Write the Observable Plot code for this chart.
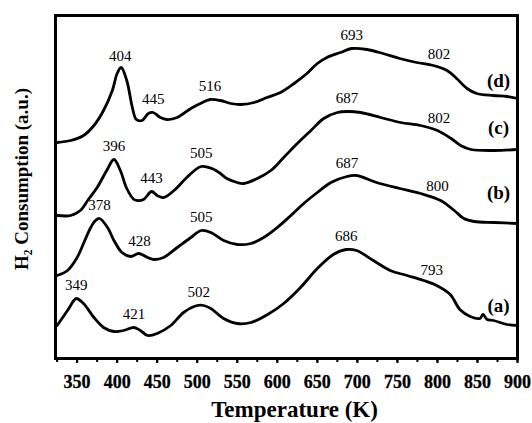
<!DOCTYPE html>
<html>
<head>
<meta charset="utf-8">
<script src="https://cdn.jsdelivr.net/npm/d3@7"></script>
<script src="https://cdn.jsdelivr.net/npm/@observablehq/plot@0.6"></script>
<style>
  body { margin: 0; background: #fff; }
</style>
</head>
<body>
<div id="chart"></div>
<script>
// H2-TPR profiles of four samples, [temperature (K), H2 signal (a.u.)], stacked with offsets
const curveA = [[325,33],[338,48],[346,58],[349,60],[358,55],[371,41],[383,31],[396,27],[408,28],[421,31],[429,28],[438,23],[450,25],[467,33],[483,46],[500,53],[508,53],[517,50],[533,40],[550,35],[567,36],[588,44],[608,55],[629,71],[650,90],[670,104],[686,109],[699,108],[720,98],[741,88],[762,83],[783,78],[799,73],[816,64],[828,49],[841,42],[853,40],[857,44],[862,39],[870,38],[887,34],[900,33]];
const curveB = [[325,83],[338,88],[350,101],[358,115],[367,131],[373,138],[378,140],[388,131],[396,118],[406,106],[417,102],[427,105],[438,101],[446,99],[458,101],[475,111],[492,121],[505,128],[517,126],[533,118],[550,114],[567,115],[583,121],[600,131],[617,143],[633,155],[650,166],[667,176],[687,182],[699,183],[724,176],[753,170],[779,165],[804,158],[821,148],[833,140],[846,137],[871,136],[900,135]];
const curveC = [[325,143],[342,143],[354,148],[364,159],[375,171],[387,188],[396,199],[404,188],[412,170],[421,159],[425,158],[433,159],[443,167],[450,163],[458,161],[471,168],[487,181],[505,192],[521,189],[529,185],[537,180],[550,176],[558,175],[575,180],[592,188],[608,201],[625,215],[642,228],[658,240],[675,246],[687,247],[704,246],[729,241],[754,236],[779,233],[800,228],[817,220],[829,213],[842,209],[871,208],[900,209]];
const curveD = [[325,216],[342,218],[358,223],[371,233],[383,248],[394,268],[400,285],[405,291],[412,278],[419,251],[424,239],[431,238],[439,245],[445,246],[454,241],[462,239],[475,241],[492,250],[504,255],[516,259],[529,258],[542,255],[554,254],[571,256],[587,261],[604,266],[621,275],[637,285],[650,295],[662,301],[679,306],[693,310],[712,309],[732,305],[753,300],[774,296],[795,293],[812,288],[824,280],[837,270],[849,265],[870,263],[887,262],[900,260]];

// Reduction peak temperatures (K) for each sample
const peaksA = [349, 421, 502, 686, 793];
const peaksB = [378, 428, 505, 687, 800];
const peaksC = [396, 443, 505, 687, 802];
const peaksD = [404, 445, 516, 693, 802];

// Sample tags and the signal level they sit at
const sampleNames = ["(a)", "(b)", "(c)", "(d)"];
const tagLevels = [53, 166, 231, 278];

const tempTicks = d3.range(350, 901, 50);
const minorTicks = d3.range(325, 901, 25);

const curves = [curveA, curveB, curveC, curveD];
const peaks = [peaksA, peaksB, peaksC, peaksD];

// linear interpolation of a profile at temperature t
function valueAt(curve, t) {
  for (let i = 1; i < curve.length; i++) {
    const [t0, v0] = curve[i - 1], [t1, v1] = curve[i];
    if (t >= t0 && t <= t1) return v0 + (v1 - v0) * (t - t0) / (t1 - t0);
  }
  return curve[curve.length - 1][1];
}

const lineRows = curves.flatMap((c, i) => c.map(([T, h2]) => ({sample: sampleNames[i], T, h2})));
const peakRows = peaks.flatMap((p, i) => p.map(T => ({T, h2: valueAt(curves[i], T), label: String(T)})));
const tagRows = sampleNames.map((name, i) => ({name, level: tagLevels[i]}));

const serif = "'Liberation Serif', 'Times New Roman', Times, serif";

const chart = Plot.plot({
  width: 532,
  height: 423,
  marginLeft: 55,
  marginRight: 15,
  marginTop: 15,
  marginBottom: 65,
  style: {fontFamily: serif, background: "#fff", color: "#000"},
  x: {domain: [323, 900], axis: null},
  y: {domain: [0, 343], axis: null},
  marks: [
    // tick marks every 25 K, slightly longer at the labelled 50 K steps
    Plot.axisX({ticks: minorTicks, tickSize: 4, tickFormat: () => "", strokeWidth: 2, label: null}),
    Plot.axisX({ticks: tempTicks, tickSize: 5, tickFormat: () => "", strokeWidth: 2, label: null}),
    Plot.text(tempTicks, {x: d => d, text: d => String(d), frameAnchor: "bottom", lineAnchor: "middle", dy: 24, fontSize: 18, fontWeight: "bold", fill: "#000", stroke: "#000", strokeWidth: 0.3}),
    Plot.line(lineRows, {x: "T", y: "h2", z: "sample", stroke: "#000", strokeWidth: 2.8, curve: "catmull-rom"}),
    Plot.text(peakRows, {x: "T", y: "h2", text: "label", dy: -13, fontSize: 15, fill: "#000"}),
    Plot.text(tagRows, {frameAnchor: "right", y: "level", text: "name", textAnchor: "middle", dx: -19, fontSize: 19, fontWeight: "bold", fill: "#000"}),
    Plot.text(["Temperature (K)"], {frameAnchor: "bottom", textAnchor: "middle", lineAnchor: "middle", dx: 8, dy: 51, fontSize: 23, fontWeight: "bold", fill: "#000"}),
    Plot.text(["H\u2082 Consumption (a.u.)"], {frameAnchor: "left", textAnchor: "middle", lineAnchor: "middle", dx: -34, dy: -8, rotate: -90, fontSize: 19, fontWeight: "bold", fill: "#000"}),
    Plot.frame({stroke: "#000", strokeWidth: 3})
  ]
});

document.getElementById("chart").append(chart);
</script>
</body>
</html>
